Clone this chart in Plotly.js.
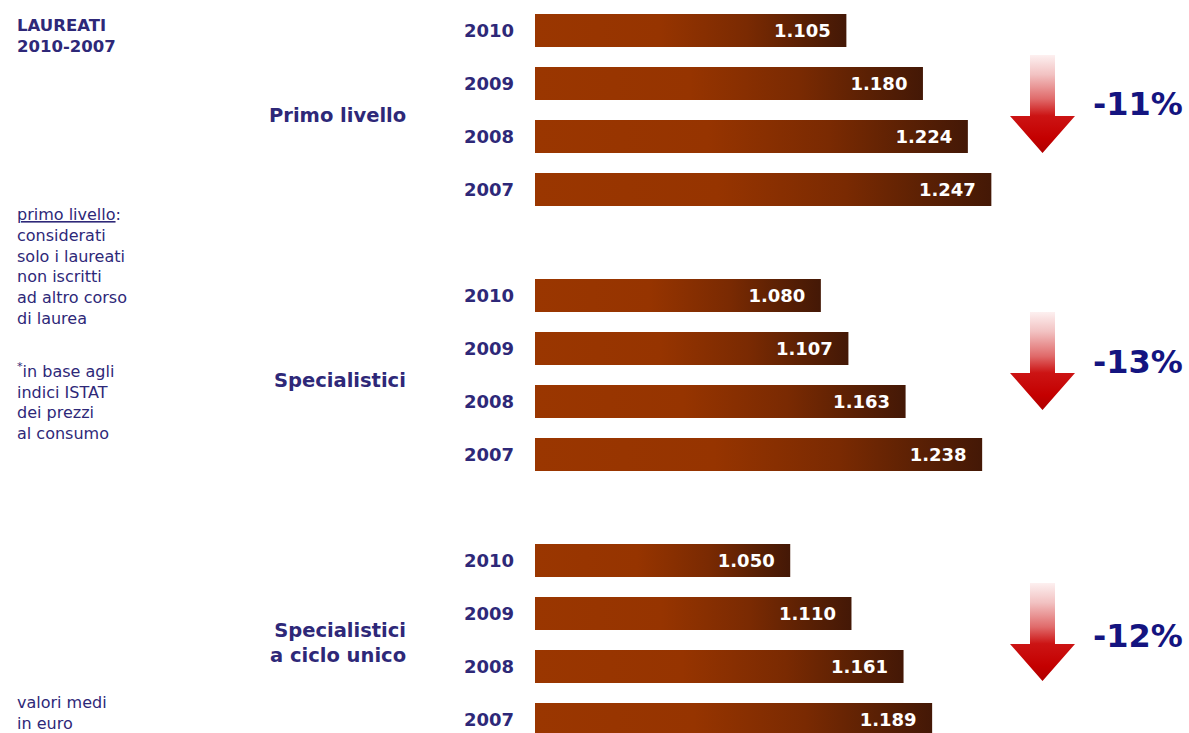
<!DOCTYPE html>
<html>
<head>
<meta charset="utf-8">
<script src="https://cdn.plot.ly/plotly-3.0.1.min.js"></script>
<style>
  html, body { margin: 0; padding: 0; background: #ffffff; overflow: hidden; }
  #chart { width: 1189px; height: 733px; }
</style>
</head>
<body>
<div id="chart"></div>
<script>
// ---- data ----
const years = ['2010', '2009', '2008', '2007'];
const groupNames = ['Primo livello', 'Specialistici', 'Specialistici<br>a ciclo unico'];
const primoLivello = [1105, 1180, 1224, 1247];
const specialistici = [1080, 1107, 1163, 1238];
const cicloUnico = [1050, 1110, 1161, 1189];
const changes = ['-11%', '-13%', '-12%'];
const axisStart = 800;   // value where the bars' visible axis begins
const axisEnd = 1440.6;

// ---- layout helpers (pixels -> paper) ----
const W = 1189, H = 733, ML = 535, PW = W - ML;
const px = x => (x - ML) / PW;
const py = y => 1 - y / H;

const TXT = '#2e2878';
const FONT = 'DejaVu Sans, Verdana, sans-serif';

const seriesList = [primoLivello, specialistici, cicloUnico];
const yNames = ['y', 'y2', 'y3'];

const traces = seriesList.map((vals, i) => ({
  type: 'bar',
  orientation: 'h',
  x: vals,
  y: years,
  xaxis: 'x',
  yaxis: yNames[i],
  marker: { color: '#8a3000', line: { width: 0 } },
  texttemplate: '%{x:,.0f}\u00a0\u00a0',
  textposition: 'inside',
  insidetextanchor: 'end',
  insidetextfont: { family: FONT, size: 18, color: '#ffffff', weight: 'bold' },
  constraintext: 'none',
  cliponaxis: true,
  hoverinfo: 'skip',
  showlegend: false
}));

const yBase = {
  type: 'category',
  categoryorder: 'array',
  categoryarray: years,
  showgrid: false,
  zeroline: false,
  showline: false,
  ticks: '',
  ticklabelstandoff: 20,
  tickfont: { family: FONT, size: 18, color: TXT, weight: 'bold' },
  anchor: 'x',
  fixedrange: true
};

const annotations = [];
function ann(o) {
  annotations.push(Object.assign({
    xref: 'paper', yref: 'paper', showarrow: false,
    font: { family: FONT, size: 16, color: TXT }
  }, o));
}

// left side notes
ann({ x: px(15), y: py(36), xanchor: 'left', yanchor: 'middle', align: 'left',
      text: '<b>LAUREATI<br>2010-2007</b>', font: { family: FONT, size: 16.5, color: TXT } });
ann({ x: px(15), y: py(203), xanchor: 'left', yanchor: 'top', align: 'left',
      text: '<span style="text-decoration:underline">primo livello</span>:<br>considerati<br>solo i laureati<br>non iscritti<br>ad altro corso<br>di laurea',
      font: { family: FONT, size: 16, color: TXT } });
ann({ x: px(15), y: py(358), xanchor: 'left', yanchor: 'top', align: 'left',
      text: '<sup>*</sup>in base agli<br>indici ISTAT<br>dei prezzi<br>al consumo',
      font: { family: FONT, size: 16, color: TXT } });
ann({ x: px(15), y: py(691), xanchor: 'left', yanchor: 'top', align: 'left',
      text: 'valori medi<br>in euro',
      font: { family: FONT, size: 16, color: TXT } });

// group labels
const groupLabelY = [115, 380, 643];
groupNames.forEach((g, i) => {
  ann({ x: px(408), y: py(groupLabelY[i]), xanchor: 'right', yanchor: 'middle', align: 'right',
        text: '<b>' + g + '</b>', font: { family: FONT, size: 19.5, color: TXT } });
});

// percent change labels
const pctY = [104, 362, 636];
changes.forEach((c, i) => {
  ann({ x: px(1091), y: py(pctY[i]), xanchor: 'left', yanchor: 'middle',
        text: '<b>' + c + '</b>', font: { family: FONT, size: 32, color: '#141480' } });
});

// arrows
const arrowTop = [55, 312, 583];
const shapes = arrowTop.map(t => {
  const head = t + 61, tip = t + 98;
  const pts = [[1030, t], [1055, t], [1055, head], [1075, head], [1042.5, tip], [1010, head], [1030, head]];
  const d = 'M ' + pts.map(p => px(p[0]) + ',' + py(p[1])).join(' L ') + ' Z';
  return { type: 'path', xref: 'paper', yref: 'paper', path: d,
           fillcolor: '#cc0000', line: { width: 0 }, layer: 'above' };
});

const layout = {
  width: W, height: H,
  margin: { l: ML, r: 0, t: 0, b: 0 },
  paper_bgcolor: '#ffffff',
  plot_bgcolor: 'rgba(0,0,0,0)',
  separators: ',.',
  bargap: 20 / 53,
  xaxis: { range: [axisStart, axisEnd], visible: false, fixedrange: true },
  yaxis: Object.assign({}, yBase, { domain: [py(216), py(4)], range: [3.5, -0.5] }),
  yaxis2: Object.assign({}, yBase, { domain: [py(481), py(269)], range: [3.5, -0.5] }),
  yaxis3: Object.assign({}, yBase, { domain: [0, py(534)], range: [3.5 - 13 / 53, -0.5] }),
  annotations: annotations,
  shapes: shapes
};

const NS = 'http://www.w3.org/2000/svg';
function addStops(g, stops) {
  stops.forEach(s => {
    const st = document.createElementNS(NS, 'stop');
    st.setAttribute('offset', s[0]);
    st.setAttribute('stop-color', s[1]);
    g.appendChild(st);
  });
}

function applyGradients(gd) {
  const defs = gd.querySelector('.main-svg defs');
  gd.querySelectorAll('.barlayer .point path').forEach((p, i) => {
    const bb = p.getBBox();
    const right = bb.x + bb.width;
    const g = document.createElementNS(NS, 'linearGradient');
    g.setAttribute('id', 'barGrad' + i);
    g.setAttribute('gradientUnits', 'userSpaceOnUse');
    g.setAttribute('x1', 0); g.setAttribute('y1', 0);
    g.setAttribute('x2', right); g.setAttribute('y2', 0);
    addStops(g, [[0, '#9a3600'], [0.4, '#963400'], [0.68, '#7a2a02'], [0.86, '#5a2004'], [1, '#441806']]);
    defs.appendChild(g);
    p.style.fill = 'url(#barGrad' + i + ')';
  });
  const ag = document.createElementNS(NS, 'linearGradient');
  ag.setAttribute('id', 'arrowGrad');
  ag.setAttribute('x1', 0); ag.setAttribute('y1', 0);
  ag.setAttribute('x2', 0); ag.setAttribute('y2', 1);
  addStops(ag, [[0, '#fdf0f0'], [0.2, '#f2c2c2'], [0.45, '#e06a6a'], [0.62, '#cc1414'], [0.85, '#c40000'], [1, '#b00000']]);
  defs.appendChild(ag);
  gd.querySelectorAll('.shapelayer path').forEach(p => { p.style.fill = 'url(#arrowGrad)'; });
}

Plotly.newPlot('chart', traces, layout, { staticPlot: true, displayModeBar: false })
  .then(applyGradients);
</script>
</body>
</html>
